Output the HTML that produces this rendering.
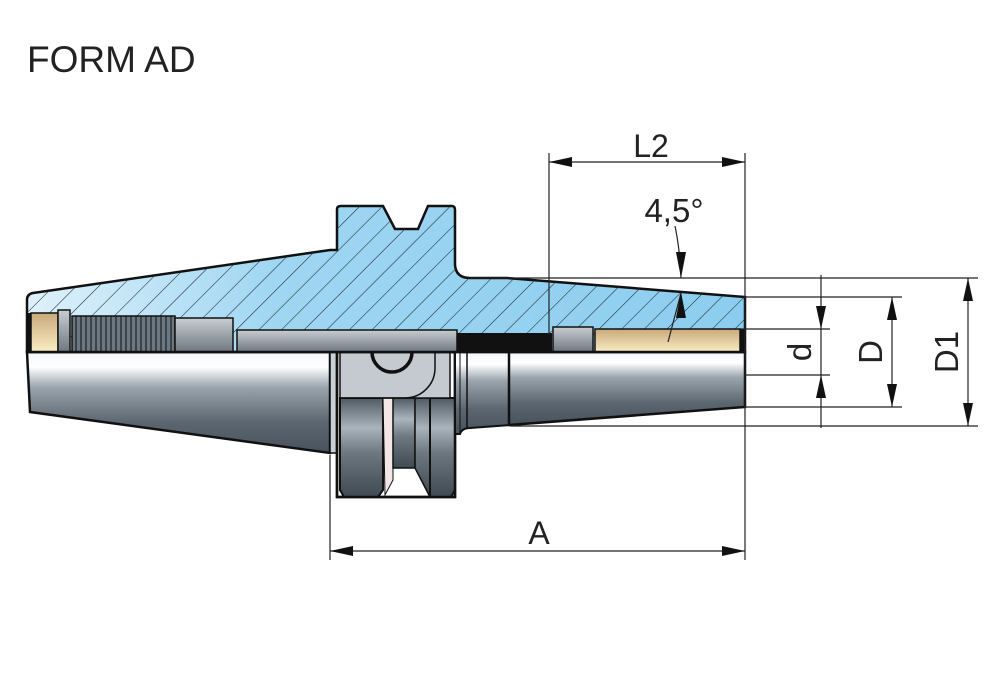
<!DOCTYPE html>
<html><head><meta charset="utf-8"><style>
html,body{margin:0;padding:0;background:#fff;}
svg{display:block}
text{font-family:"Liberation Sans",Arial,sans-serif;fill:#222}
</style></head><body>
<svg width="1000" height="694" viewBox="0 0 1000 694" xmlns="http://www.w3.org/2000/svg">
<defs>
<linearGradient id="blue" x1="0" x2="1" y1="0" y2="0">
<stop offset="0" stop-color="#dff1fb"/><stop offset="0.35" stop-color="#9fd6f2"/><stop offset="1" stop-color="#8ccdef"/>
</linearGradient>
<linearGradient id="steel" x1="0" x2="0" y1="0" y2="1">
<stop offset="0" stop-color="#f4f7fa"/><stop offset="0.15" stop-color="#ffffff"/><stop offset="0.35" stop-color="#9aa4ad"/><stop offset="0.7" stop-color="#5b6670"/><stop offset="1" stop-color="#48525c"/>
</linearGradient>
<linearGradient id="steelv" x1="0" x2="0" y1="0" y2="1">
<stop offset="0" stop-color="#4f5a64"/><stop offset="0.3" stop-color="#a9b4bd"/><stop offset="0.55" stop-color="#6d7881"/><stop offset="1" stop-color="#3f4952"/>
</linearGradient>
<linearGradient id="gold" x1="0" x2="0" y1="0" y2="1">
<stop offset="0" stop-color="#c9a97a"/><stop offset="1" stop-color="#fbeec4"/>
</linearGradient>
<linearGradient id="gray" x1="0" x2="0" y1="0" y2="1">
<stop offset="0" stop-color="#c8cdd2"/><stop offset="1" stop-color="#6e7780"/>
</linearGradient>
<pattern id="hatch" width="16" height="16" patternUnits="userSpaceOnUse" patternTransform="rotate(45)">
<line x1="0" y1="0" x2="0" y2="16" stroke="#1a2a36" stroke-width="1.1"/>
</pattern>
<pattern id="thread" width="5" height="10" patternUnits="userSpaceOnUse">
<rect width="5" height="10" fill="#6c7780"/><rect width="2" height="10" fill="#3a444c"/>
</pattern>
</defs>

<text x="27" y="72" font-size="37">FORM AD</text>

<!-- lower body (steel) -->
<path d="M27,352 L330,352 L330,453 L30,412 Z" fill="url(#steel)" stroke="#111" stroke-width="2.5"/>
<rect x="330" y="352" width="8" height="101" fill="#c9d0d6" stroke="#111" stroke-width="1.5"/>
<!-- flange lower -->
<rect x="337" y="352" width="118" height="145" fill="#fff" stroke="#111" stroke-width="2.5"/>
<path d="M340,398 L383,398 L383,490 L378,497 L344,497 L340,490 Z" fill="url(#steelv)" stroke="#111" stroke-width="2"/>
<path d="M383,398 L393,398 L393,480 L385,495 Z" fill="#f3e6e6" stroke="#111" stroke-width="1"/>
<path d="M393,398 L415,398 L415,468 L393,468 Z" fill="url(#steelv)" stroke="#111" stroke-width="1.5"/>
<path d="M415,398 L430,398 L430,497 L415,468 Z" fill="url(#steelv)" stroke="#111" stroke-width="1.5"/>
<path d="M430,398 L455,398 L455,490 L451,497 L430,497 Z" fill="url(#steelv)" stroke="#111" stroke-width="2"/>
<rect x="340" y="352" width="110" height="46" fill="#c4cad0" stroke="#111" stroke-width="1.5"/>
<path d="M372,352 A20,20 0 0 0 412,352" fill="none" stroke="#111" stroke-width="3.5"/>
<path d="M340,398 L405,398 A30,30 0 0 0 435,368 L435,352" fill="none" stroke="#111" stroke-width="1.5"/>
<rect x="337" y="352" width="118" height="145" fill="none" stroke="#111" stroke-width="2.5"/>
<!-- neck -->
<path d="M455,352 L510,352 L510,425 L470,428 Q462,428 460,434 L455,434 Z" fill="url(#steel)" stroke="#111" stroke-width="2"/>
<line x1="467" y1="352" x2="467" y2="428" stroke="#111" stroke-width="1.5"/>
<line x1="460" y1="352" x2="460" y2="434" stroke="#111" stroke-width="1"/>
<!-- right shaft -->
<path d="M509,352 L745,352 L745,407 L509,425 Z" fill="url(#steel)" stroke="#111" stroke-width="2.5"/>

<!-- section top (blue) -->
<path d="M27,352 L27,300 Q27,294 33,293 L330,250 L337,250 L337,209 Q337,206 341,206 L383,206 L395,229 L418,229 L428,206 L452,206 Q455,206 455,210 L455,265 Q456,278 470,278 L507,278 L745,297 L745,352 Z" fill="url(#blue)" stroke="#111" stroke-width="2.5"/>
<path d="M27,352 L27,300 Q27,294 33,293 L330,250 L337,250 L337,209 Q337,206 341,206 L383,206 L395,229 L418,229 L428,206 L452,206 Q455,206 455,210 L455,265 Q456,278 470,278 L507,278 L745,297 L745,352 Z" fill="url(#hatch)"/>
<!-- bore parts -->
<rect x="27" y="313" width="4" height="39" fill="#111"/>
<rect x="31" y="313" width="27" height="39" fill="url(#gold)" stroke="#111" stroke-width="1.5"/>
<rect x="58" y="310" width="12" height="42" fill="url(#gray)" stroke="#111" stroke-width="1.5"/>
<rect x="72" y="316" width="103" height="36" fill="url(#thread)" stroke="#111" stroke-width="1.5"/>
<rect x="175" y="318" width="58" height="34" fill="url(#gray)" stroke="#111" stroke-width="1.5"/>
<rect x="237" y="330" width="220" height="22" fill="url(#gray)" stroke="#111" stroke-width="1.5"/>
<rect x="457" y="333" width="95" height="19" fill="#111"/>
<rect x="553" y="327" width="40" height="25" fill="url(#gray)" stroke="#111" stroke-width="1.5"/>
<rect x="595" y="329" width="145" height="23" fill="url(#gold)" stroke="#111" stroke-width="1.5"/>
<rect x="740" y="329" width="5" height="23" fill="#111"/>
<line x1="27" y1="352" x2="745" y2="352" stroke="#111" stroke-width="2.5"/>

<!-- dimension lines -->
<g stroke="#222" stroke-width="1.2" fill="none">
<line x1="549" y1="153" x2="549" y2="335"/>
<line x1="745" y1="153" x2="745" y2="560"/>
<line x1="330" y1="455" x2="330" y2="560"/>
<line x1="549" y1="162" x2="745" y2="162"/>
<line x1="330" y1="551" x2="745" y2="551"/>
<line x1="470" y1="278" x2="978" y2="278"/>
<line x1="745" y1="297" x2="902" y2="297"/>
<line x1="740" y1="329" x2="830" y2="329"/>
<line x1="745" y1="375" x2="830" y2="375"/>
<line x1="745" y1="407" x2="902" y2="407"/>
<line x1="510" y1="426" x2="978" y2="426"/>
<line x1="821" y1="275" x2="821" y2="428"/>
<line x1="892" y1="297" x2="892" y2="407"/>
<line x1="968" y1="278" x2="968" y2="426"/>
<path d="M675,226 Q680,250 681,278"/>
<path d="M668,342 L681,293"/>
</g>
<g fill="#111">
<path d="M549,162 L572,157 L572,167 Z"/>
<path d="M745,162 L722,157 L722,167 Z"/>
<path d="M330,551 L353,546 L353,556 Z"/>
<path d="M745,551 L722,546 L722,556 Z"/>
<path d="M821,329 L816,306 L826,306 Z"/>
<path d="M821,375 L816,398 L826,398 Z"/>
<path d="M892,297 L887,320 L897,320 Z"/>
<path d="M892,407 L887,384 L897,384 Z"/>
<path d="M968,278 L963,301 L973,301 Z"/>
<path d="M968,426 L963,403 L973,403 Z"/>
<path d="M681,278 L676,252 L686,252 Z"/>
<path d="M681,292 L676,318 L686,318 Z"/>
</g>

<text x="651" y="157" font-size="32" text-anchor="middle">L2</text>
<text x="539" y="544" font-size="32" text-anchor="middle">A</text>
<text x="674" y="222" font-size="33" text-anchor="middle">4,5°</text>
<text transform="translate(811,352) rotate(-90)" font-size="33" text-anchor="middle">d</text>
<text transform="translate(882,352) rotate(-90)" font-size="33" text-anchor="middle">D</text>
<text transform="translate(958,352) rotate(-90)" font-size="33" text-anchor="middle">D1</text>
</svg>
</body></html>
